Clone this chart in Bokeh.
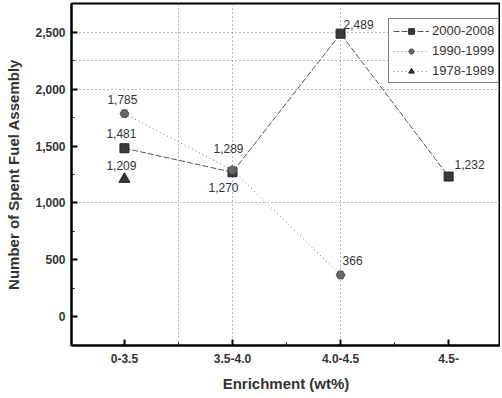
from bokeh.plotting import figure
from bokeh.models import FixedTicker, Range1d, Legend, LegendItem, ColumnDataSource
from bokeh.core.properties import value
from bokeh.embed import file_html
from bokeh.resources import INLINE

# ---- data ----
categories = ["0-3.5", "3.5-4.0", "4.0-4.5", "4.5-"]
s2000_x = [0, 1, 2, 3]
s2000_y = [1481, 1270, 2489, 1232]
s1990_x = [0, 1, 2]
s1990_y = [1785, 1289, 366]
s1978_x = [0]
s1978_y = [1209]
y_ticks = [0, 500, 1000, 1500, 2000, 2500]

# ---- label offsets (screen px, styling only) ----
off2000 = ([-3, -9, 18, 21], [-15, 15, -9, -12])
off1990 = ([-2, -4, 12], [-14, -22, -15])
off1978 = ([-3], [-14])

FONT = "Liberation Sans"

p = figure(frame_width=429, frame_height=342, output_backend="svg", toolbar_location=None,
           x_range=Range1d(-0.49, 3.48), y_range=Range1d(-254, 2754),
           min_border_left=71, min_border_top=3, min_border_right=0, min_border_bottom=45)
p.outline_line_color = "black"
p.outline_line_width = 2
p.background_fill_color = "white"

# axes
p.xaxis.ticker = FixedTicker(ticks=s2000_x, minor_ticks=[-0.5, 0.5, 1.5, 2.5, 3.5])
p.xaxis.major_label_overrides = {i: c for i, c in enumerate(categories)}
p.yaxis.ticker = FixedTicker(ticks=y_ticks, minor_ticks=[-250, 250, 750, 1250, 1750, 2250, 2750])
p.yaxis.formatter.use_scientific = False
p.yaxis.major_label_overrides = {t: f"{t:,}" for t in y_ticks}
for ax in (p.xaxis[0], p.yaxis[0]):
    ax.axis_line_width = 2
    ax.axis_line_color = "black"
    ax.major_tick_in = 6
    ax.major_tick_out = 0
    ax.minor_tick_in = 3
    ax.minor_tick_out = 0
    ax.major_tick_line_width = 2
    ax.major_label_text_font = FONT
    ax.major_label_text_font_size = "12px"
    ax.major_label_text_font_style = "bold"
    ax.major_label_text_color = "#333333"
    ax.axis_label_text_font = FONT
    ax.axis_label_text_font_size = "15px"
    ax.axis_label_text_font_style = "bold"
    ax.axis_label_text_color = "#333333"
p.xaxis.axis_label = "Enrichment (wt%)"
p.yaxis.axis_label = "Number of Spent Fuel Assembly"
p.xaxis.major_label_standoff = 8
p.yaxis.major_label_standoff = 6
p.xaxis.axis_label_standoff = 9
p.yaxis.axis_label_standoff = 10

# grids
p.xgrid.ticker = FixedTicker(ticks=[0.5, 1, 2])
p.ygrid.ticker = FixedTicker(ticks=[1000, 2000, 2250, 2500])
for g in (p.xgrid[0], p.ygrid[0]):
    g.grid_line_color = "#777777"
    g.grid_line_dash = "1 3"
    g.grid_line_width = 1

# series
l1 = p.line(s2000_x, s2000_y, line_color="#555555", line_width=1, line_dash="6 2")
m1 = p.scatter(s2000_x, s2000_y, marker="square", size=9, fill_color="#3a3a3a", line_color="#222222")
l2 = p.line(s1990_x, s1990_y, line_color="#777777", line_width=1, line_dash="1 3")
m2 = p.scatter(s1990_x, s1990_y, marker="hex", size=9, fill_color="#666666", line_color="#555555")
l3 = p.line(s1978_x, s1978_y, line_color="#777777", line_width=1, line_dash="1 3")
m3 = p.scatter(s1978_x, s1978_y, marker="triangle", size=11, fill_color="#333333", line_color="#222222")

def labels(xs, ys, offs):
    src = ColumnDataSource(dict(x=xs, y=ys, t=[f"{v:,}" for v in ys], dx=offs[0], dy=offs[1]))
    p.text(x="x", y="y", text="t", source=src, x_offset="dx", y_offset="dy",
           text_font=value(FONT), text_font_size="12px", text_color="#333333",
           text_align="center", text_baseline="middle")

labels(s2000_x, s2000_y, off2000)
labels(s1990_x, s1990_y, off1990)
labels(s1978_x, s1978_y, off1978)

legend = Legend(items=[LegendItem(label="2000-2008", renderers=[l1, m1]),
                       LegendItem(label="1990-1999", renderers=[l2, m2]),
                       LegendItem(label="1978-1989", renderers=[l3, m3])],
                location=(317, 262))
legend.border_line_color = "black"
legend.border_line_width = 1
legend.label_text_font = FONT
legend.label_text_font_size = "13px"
legend.label_text_color = "#333333"
legend.glyph_width = 36
legend.glyph_height = 14
legend.label_standoff = 3
legend.padding = 4
legend.spacing = 5
legend.margin = 0
legend.label_height = 14
p.add_layout(legend, "center")

open("out.html", "w").write(file_html(p, INLINE))
